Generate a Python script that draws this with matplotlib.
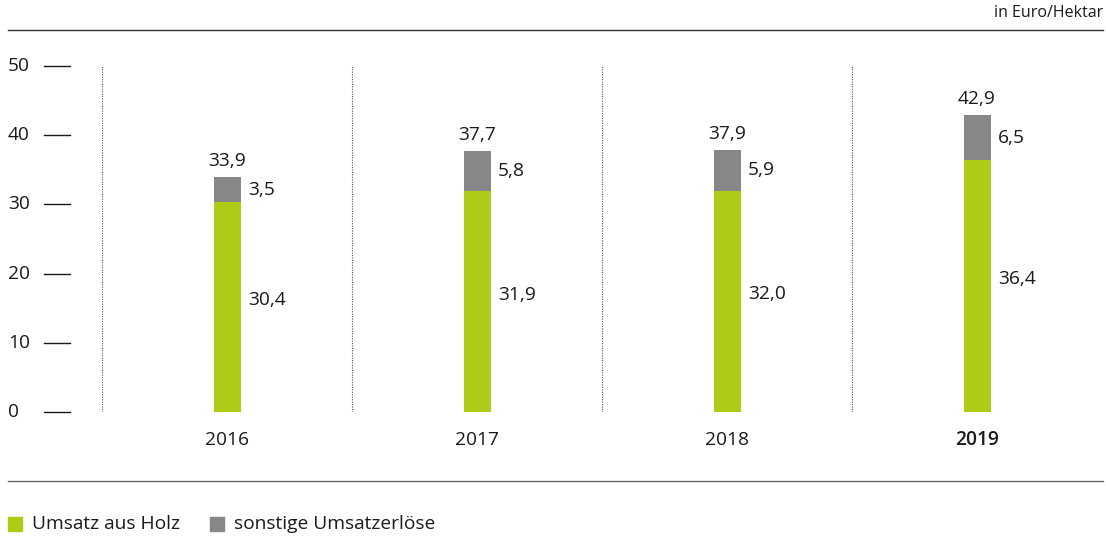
import matplotlib.pyplot as plt
import matplotlib.transforms as mtransforms
import numpy as np

plt.rcParams['font.family'] = ['Open Sans', 'DejaVu Sans']

years = ['2016', '2017', '2018', '2019']
holz = [30.4, 31.9, 32.0, 36.4]
sonstige = [3.5, 5.8, 5.9, 6.5]
totals = [33.9, 37.7, 37.9, 42.9]
yticks = [0, 10, 20, 30, 40, 50]

GREEN = '#aecb18'
GREY = '#878787'
TXT = '#1a1a1a'
FS = 13.8


def fmt(v):
    return f"{v:.1f}".replace('.', ',')


fig = plt.figure(figsize=(11.06, 5.37), dpi=100)
W, H = 1106, 537
# axes: x from 102 to 1102 px, y=0 at 412 px, y=50 at 66 px
ax = fig.add_axes([102 / W, 1 - 412 / H, 1000 / W, (412 - 66) / H])
ax.set_xlim(-0.5, 3.5)
ax.set_ylim(0, 50)
ax.axis('off')

x = np.arange(len(years))
bw = 0.108
ax.bar(x, holz, width=bw, color=GREEN, zorder=2)
ax.bar(x, sonstige, width=bw, bottom=holz, color=GREY, zorder=2)

# dotted separators
for i in range(len(years)):
    ax.plot([i - 0.5, i - 0.5], [0, 50], color='#555555', lw=0.8,
            ls=(0, (1, 1.2)), zorder=1)

# y ticks, drawn outside the axes
trans = mtransforms.blended_transform_factory(ax.transAxes, ax.transData)
for t in yticks:
    ax.plot([-0.058, -0.032], [t, t], color=TXT, lw=1, transform=trans,
            clip_on=False)
    ax.text(-0.094, t, str(t), transform=trans, ha='left', va='center',
            fontsize=FS, color=TXT)

# value labels
for i in range(len(years)):
    ax.text(x[i] + bw / 2 + 0.03, holz[i] / 2 + 1, fmt(holz[i]), ha='left',
            va='center', fontsize=FS, color=TXT)
    ax.text(x[i] + bw / 2 + 0.03, holz[i] + sonstige[i] / 2, fmt(sonstige[i]),
            ha='left', va='center', fontsize=FS, color=TXT)
    ax.annotate(fmt(totals[i]), (x[i], totals[i]), xytext=(0, 5),
                textcoords='offset points', ha='center', va='bottom',
                fontsize=FS, color=TXT)
    ax.text(x[i], -4.1, years[i], ha='center', va='center', fontsize=FS,
            color=TXT, fontweight='semibold' if i == len(years) - 1 else 'normal')

# horizontal rules
fig.add_artist(plt.Line2D([8 / W, 1103 / W], [1 - 30 / H, 1 - 30 / H],
                          color='#333333', lw=1))
fig.add_artist(plt.Line2D([8 / W, 1103 / W], [1 - 481 / H, 1 - 481 / H],
                          color='#666666', lw=1))
fig.text(1103 / W, 1 - 13 / H, 'in Euro/Hektar', ha='right', va='center',
         fontsize=11.5, color=TXT)

# legend
fig.patches.append(plt.Rectangle((8 / W, 1 - 531 / H), 14 / W, 14 / H,
                                 color=GREEN, transform=fig.transFigure))
fig.text(32 / W, 1 - 524 / H, 'Umsatz aus Holz', ha='left', va='center',
         fontsize=FS, color=TXT)
fig.patches.append(plt.Rectangle((210 / W, 1 - 531 / H), 14 / W, 14 / H,
                                 color=GREY, transform=fig.transFigure))
fig.text(234 / W, 1 - 524 / H, 'sonstige Umsatzerlöse', ha='left',
         va='center', fontsize=FS, color=TXT)

fig.savefig('out.png', dpi=100)
